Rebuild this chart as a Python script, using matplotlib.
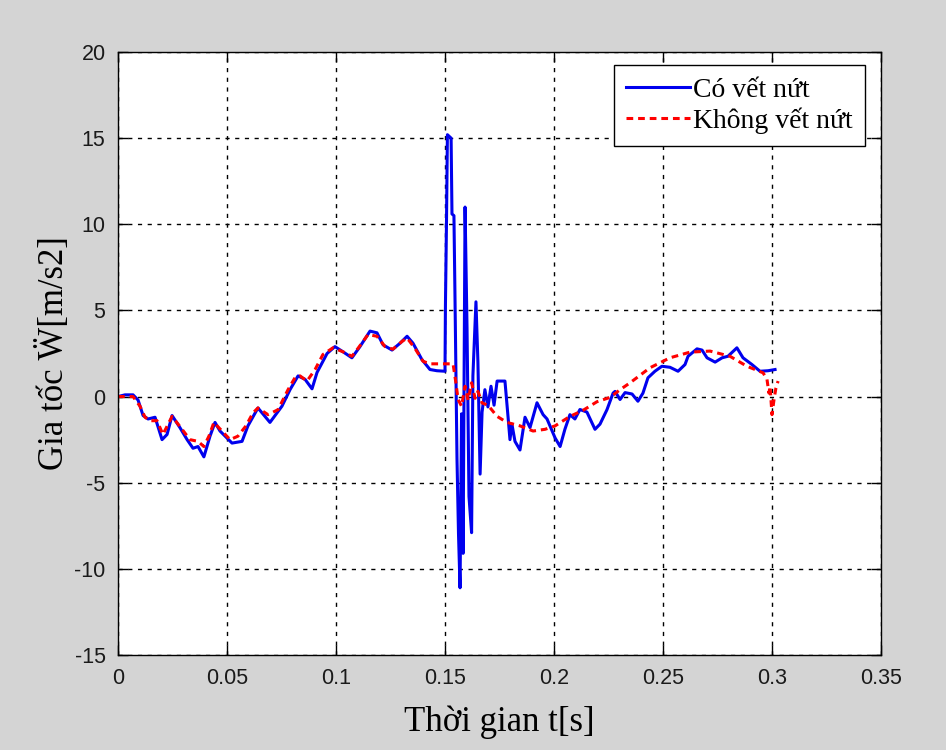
import matplotlib.pyplot as plt
import numpy as np

plt.rcParams["axes.unicode_minus"] = False

# Có vết nứt (blue)
t_crack = [0.0, 0.0032, 0.0069, 0.0092, 0.0115, 0.0138, 0.0170, 0.0202, 0.0225, 0.0248,
           0.0284, 0.0317, 0.0344, 0.0367, 0.0394, 0.0422, 0.0445, 0.0468, 0.0523, 0.0569,
           0.0596, 0.0642, 0.0697, 0.0752, 0.0789, 0.0826, 0.0858, 0.0890, 0.0913, 0.0959,
           0.0995, 0.1032, 0.1073, 0.1110, 0.1156, 0.1188, 0.1216, 0.1257, 0.1294, 0.1326,
           0.1353, 0.1394, 0.1431, 0.1463, 0.1500, 0.1502, 0.1507, 0.1511, 0.1528, 0.1532,
           0.1541, 0.1546, 0.1555, 0.1562, 0.1569, 0.1576, 0.1583, 0.1592, 0.1601, 0.1610,
           0.1622, 0.1628, 0.1642, 0.1651, 0.1661, 0.1670, 0.1683, 0.1697, 0.1711, 0.1725,
           0.1739, 0.1775, 0.1789, 0.1798, 0.1807, 0.1821, 0.1844, 0.1867, 0.1890, 0.1922,
           0.1950, 0.1968, 0.2005, 0.2028, 0.2050, 0.2073, 0.2096, 0.2119, 0.2151, 0.2188,
           0.2211, 0.2243, 0.2271, 0.2280, 0.2303, 0.2326, 0.2358, 0.2385, 0.2408, 0.2431,
           0.2463, 0.2495, 0.2532, 0.2569, 0.2601, 0.2615, 0.2656, 0.2679, 0.2702, 0.2739,
           0.2771, 0.2798, 0.2839, 0.2867, 0.2908, 0.2945, 0.2982, 0.3014]
a_crack = [0.0, 0.1, 0.1, -0.2, -1.1, -1.3, -1.2, -2.5, -2.2, -1.1,
           -1.8, -2.5, -3.0, -2.9, -3.5, -2.3, -1.5, -2.0, -2.7, -2.6,
           -1.7, -0.66, -1.5, -0.56, 0.4, 1.2, 1.0, 0.45, 1.4, 2.5,
           2.9, 2.6, 2.25, 2.9, 3.8, 3.7, 3.0, 2.7, 3.1, 3.5,
           3.1, 2.15, 1.57, 1.5, 1.47, 5.3, 10.3, 15.2, 15.0, 10.6,
           10.5, 5.6, -3.6, -8.0, -11.1, -1.0, -9.1, 11.0, 4.0, -5.8,
           -7.9, 1.2, 5.5, 2.0, -4.5, -0.9, 0.4, -0.6, 0.6, -0.5,
           0.9, 0.9, -1.15, -2.5, -1.6, -2.6, -3.1, -1.2, -1.8, -0.36,
           -1.05, -1.3, -2.4, -2.9, -1.9, -1.05, -1.3, -0.75, -0.9, -1.9,
           -1.6, -0.76, 0.2, 0.3, -0.17, 0.23, 0.15, -0.27, 0.2, 1.09,
           1.47, 1.76, 1.7, 1.47, 1.86, 2.34, 2.77, 2.7, 2.25, 2.0,
           2.25, 2.34, 2.83, 2.25, 1.86, 1.47, 1.5, 1.57]

# Không vết nứt (red dashed)
t_intact = [0.0, 0.0069, 0.0101, 0.0124, 0.0147, 0.0179, 0.0206, 0.0248, 0.0294, 0.0330,
            0.0367, 0.0394, 0.0417, 0.0440, 0.0477, 0.0514, 0.0550, 0.0587, 0.0619, 0.0642,
            0.0688, 0.0734, 0.0780, 0.0812, 0.0835, 0.0867, 0.0904, 0.0940, 0.0986, 0.1032,
            0.1073, 0.1101, 0.1147, 0.1188, 0.1225, 0.1261, 0.1303, 0.1326, 0.1362, 0.1399,
            0.1431, 0.1537, 0.1550, 0.1560, 0.1576, 0.1592, 0.1606, 0.1622, 0.1638, 0.1651,
            0.1670, 0.1697, 0.1739, 0.1784, 0.1844, 0.1904, 0.1959, 0.2005, 0.2073, 0.2133,
            0.2197, 0.2257, 0.2303, 0.2349, 0.2440, 0.2532, 0.2624, 0.2716, 0.2807, 0.2885,
            0.2959, 0.2977, 0.2986, 0.2991, 0.3000, 0.3009, 0.3018, 0.3028]
a_intact = [0.0, 0.0, -0.56, -1.2, -1.4, -1.4, -2.2, -1.15, -1.9, -2.5,
            -2.6, -2.9, -2.3, -1.5, -2.0, -2.5, -2.3, -1.7, -0.95, -0.66,
            -1.05, -0.76, 0.4, 1.1, 1.2, 0.9, 1.57, 2.44, 2.83, 2.6,
            2.34, 2.8, 3.6, 3.5, 2.9, 2.75, 3.2, 3.4, 2.8, 2.05,
            1.9, 1.9, 0.8, -0.17, -0.56, 0.6, -0.2, 0.8, -0.1, 0.3,
            -0.37, -0.5, -1.15, -1.5, -1.7, -2.0, -1.9, -1.7, -1.15, -0.8,
            -0.3, -0.05, 0.4, 0.8, 1.67, 2.25, 2.58, 2.64, 2.34, 1.76,
            1.38, 1.0, 0.2, 0.6, -1.05, -0.2, 0.5, 0.9]

x_ticks = [0, 0.05, 0.1, 0.15, 0.2, 0.25, 0.3, 0.35]
x_labels = ["0", "0.05", "0.1", "0.15", "0.2", "0.25", "0.3", "0.35"]
y_ticks = [-15, -10, -5, 0, 5, 10, 15, 20]

fig = plt.figure(figsize=(9.46, 7.5), dpi=100, facecolor="#d4d4d4")
ax = fig.add_axes([118 / 946, 95 / 750, 763 / 946, 603 / 750])
ax.set_facecolor("white")

ax.plot(t_crack, a_crack, color="#0000ee", linewidth=2.2, label="Có vết nứt")
ax.plot(t_intact, a_intact, color="#ff0000", linewidth=2.2, linestyle=(0, (2.2, 1.6)),
        label="Không vết nứt")

ax.set_xlim(0, 0.35)
ax.set_ylim(-15, 20)
ax.set_xticks(x_ticks)
ax.set_xticklabels(x_labels)
ax.set_yticks(y_ticks)

ax.grid(True, color="black", linestyle=(0, (3, 4)), linewidth=1)
ax.tick_params(direction="in", top=True, right=True, length=7, width=1,
               labelsize=15.5, pad=9)
for lbl in ax.get_xticklabels() + ax.get_yticklabels():
    lbl.set_family("Liberation Sans")
    lbl.set_color("#1a1a1a")
for s in ax.spines.values():
    s.set_linewidth(1)
    s.set_color("black")

ax.set_xlabel("Thời gian t[s]", fontsize=25, family="Liberation Serif", labelpad=12)
ax.set_ylabel("Gia tốc Ẅ[m/s2]", fontsize=25, family="Liberation Serif", labelpad=2)

leg = ax.legend(loc="upper right", bbox_to_anchor=(865 / 946, 1 - 65 / 750),
                bbox_transform=fig.transFigure, borderaxespad=0,
                prop={"family": "Liberation Serif", "size": 20},
                fancybox=False, framealpha=1, edgecolor="black",
                handlelength=2.3, handletextpad=0.1, labelspacing=0.15,
                borderpad=0.45)
leg.get_frame().set_linewidth(1)

fig.savefig("out.png", dpi=100, facecolor=fig.get_facecolor())
